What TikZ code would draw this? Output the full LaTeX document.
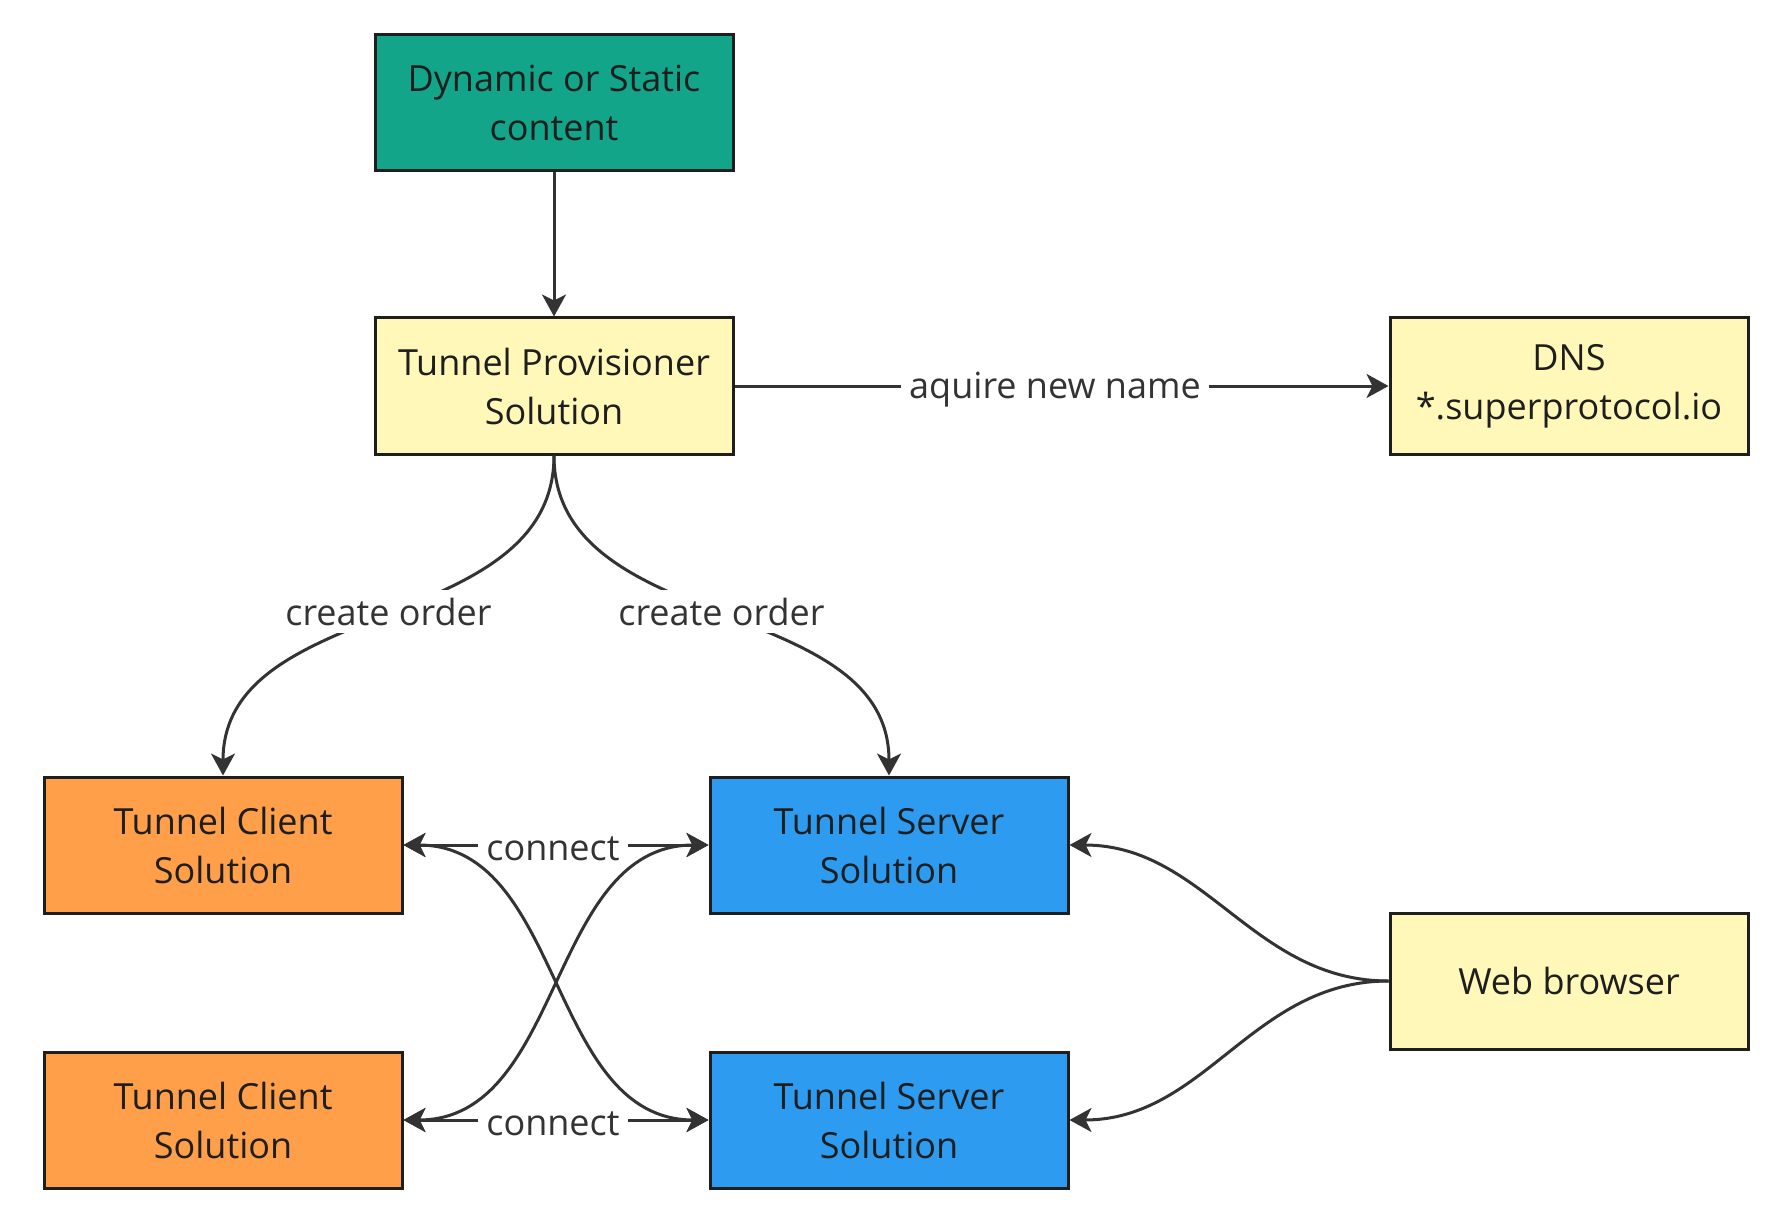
\documentclass[tikz,border=0pt]{standalone}
\usepackage{fontspec}
\setmainfont{Open Sans}
\usepackage{tikz}
\usetikzlibrary{arrows.meta, positioning}
\definecolor{mygreen}{RGB}{18, 165, 137}
\definecolor{myyellow}{RGB}{255, 248, 185}
\definecolor{myorange}{RGB}{255, 159, 74}
\definecolor{myblue}{RGB}{45, 155, 240}
\definecolor{myline}{RGB}{51, 51, 51}
\definecolor{myborder}{RGB}{30, 30, 30}

\begin{document}
\begin{tikzpicture}[x=0.5pt, y=-0.5pt,
    box/.style={draw=myborder, line width=1.5pt, minimum width=179pt, minimum height=68pt, align=center, text=myborder, font=\fontsize{18}{24.5}\selectfont},
    link/.style={draw=myline, line width=1.5pt, -{Stealth[length=11pt, width=12pt, inset=3pt]}},
    both/.style={link, {Stealth[length=11pt, width=12pt, inset=3pt]}-{Stealth[length=11pt, width=12pt, inset=3pt]}},
    tag/.style={fill=white, text=myline, inner sep=4pt, yshift=-2pt, font=\fontsize{18}{22}\selectfont}]
    \useasboundingbox (0,0) rectangle (1778,1230);
    % Content and provisioner
    \node[box, fill=mygreen] (content) at (554,103) {Dynamic or Static\\content};
    \node[box, fill=myyellow] (prov) at (554,386) {Tunnel Provisioner\\Solution};
    \node[box, fill=myyellow] (dns) at (1569,386) {DNS\\*.superprotocol.io};
    % Clients and servers
    \node[box, fill=myorange] (client1) at (223,845) {Tunnel Client\\Solution};
    \node[box, fill=myblue] (server1) at (889,845) {Tunnel Server\\Solution};
    \node[box, fill=myorange] (client2) at (223,1120) {Tunnel Client\\Solution};
    \node[box, fill=myblue] (server2) at (889,1120) {Tunnel Server\\Solution};
    \node[box, fill=myyellow] (web) at (1569,981) {Web browser};
    % Arrows
    \draw[link] (content) -- (prov);
    \draw[link] (prov) -- node[tag, pos=0.49] {aquire new name} (dns);
    \draw[link] (prov.south) to[out=-90, in=90] node[tag, yshift=4pt] {create order} (client1.north);
    \draw[link] (prov.south) to[out=-90, in=90] node[tag, yshift=4pt] {create order} (server1.north);
    \draw[both] (client1) -- node[tag, pos=0.49] {connect} (server1);
    \draw[both] (client2) -- node[tag, pos=0.49] {connect} (server2);
    \draw[both] (client1.east) to[out=0, in=180] (server2.west);
    \draw[both] (client2.east) to[out=0, in=180] (server1.west);
    \draw[link] (web.west) to[out=180, in=0] (server1.east);
    \draw[link] (web.west) to[out=180, in=0] (server2.east);
\end{tikzpicture}
\end{document}
